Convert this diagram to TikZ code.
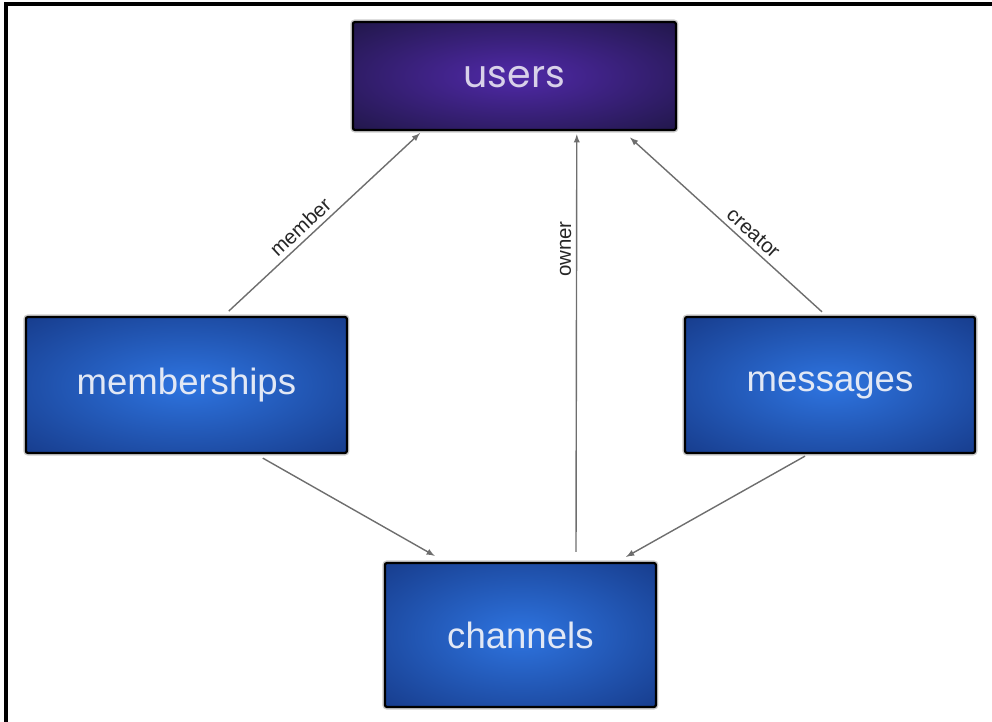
\documentclass[tikz,border=0pt]{standalone}
\usepackage{fontspec}
\setmainfont{Liberation Sans}
\newfontfamily\titlefont{Poppins}
\usepackage{tikz}
\usetikzlibrary{positioning}
\usetikzlibrary{shapes.geometric, arrows}
\usepackage{xcolor}

\definecolor{boxblue}{HTML}{2E74E0}
\definecolor{boxbluedark}{HTML}{173C8C}
\definecolor{boxpurple}{HTML}{5029A8}
\definecolor{boxpurpledark}{HTML}{1E1644}
\definecolor{linkgray}{HTML}{6E6E6E}
\definecolor{boxtext}{HTML}{E2E8F5}

\pgfdeclareradialshading{bluefill}{\pgfpoint{0bp}{0bp}}{color(0bp)=(boxblue); color(36bp)=(boxbluedark); color(60bp)=(boxbluedark)}
\pgfdeclareradialshading{purplefill}{\pgfpoint{0bp}{0bp}}{color(0bp)=(boxpurple); color(38bp)=(boxpurpledark); color(60bp)=(boxpurpledark)}

\begin{document}
\begin{tikzpicture}[>=latex,
  table/.style={rectangle, draw=black, line width=1.6pt, rounded corners=1.5pt, shading=bluefill, text=boxtext, font=\fontsize{26}{30}\selectfont, minimum height=3.4cm, preaction={draw=gray!40, line width=3.6pt}},
  usertable/.style={table, shading=purplefill, text=boxtext!90!violet, font=\titlefont\fontsize{27}{30}\selectfont, minimum height=2.7cm},
  link/.style={->, draw=linkgray, line width=1pt},
  role/.style={font=\fontsize{14.5}{17}\selectfont, text=black!85, sloped, above}]

\useasboundingbox (0,0) rectangle (24.8,18.05);

% Frame
\draw[line width=2.2pt] (0.15,0) |- (24.8,17.95);

% Nodes
\node[usertable, minimum width=8.075cm] (users) at (12.86,16.15) {\raisebox{-8.4pt}[0pt][0pt]{users}};
\node[table, minimum width=8.025cm] (memberships) at (4.66,8.425) {memberships};
\node[table, minimum width=7.25cm] (messages) at (20.75,8.425) {messages};
\node[table, minimum width=6.775cm, minimum height=3.6cm] (channels) at (13.01,2.175) {channels};

% Arrows
\draw[link] ([xshift=1.06cm,yshift=0.12cm]memberships.north) -- node[role, pos=0.42] {member} ([xshift=-2.36cm,yshift=-0.05cm]users.south);
\draw[link] ([xshift=1.39cm,yshift=0.25cm]channels.north) -- node[role, pos=0.725] {owner} ([xshift=1.56cm,yshift=-0.08cm]users.south);
\draw[link] ([xshift=-0.2cm,yshift=0.1cm]messages.north) -- node[role, pos=0.4] {creator} ([xshift=2.89cm,yshift=-0.16cm]users.south);
\draw[link] ([xshift=1.91cm,yshift=-0.1cm]memberships.south) -- ([xshift=-2.14cm,yshift=0.15cm]channels.north);
\draw[link] ([xshift=-0.625cm,yshift=-0.05cm]messages.south) -- ([xshift=2.64cm,yshift=0.125cm]channels.north);

\end{tikzpicture}
\end{document}
